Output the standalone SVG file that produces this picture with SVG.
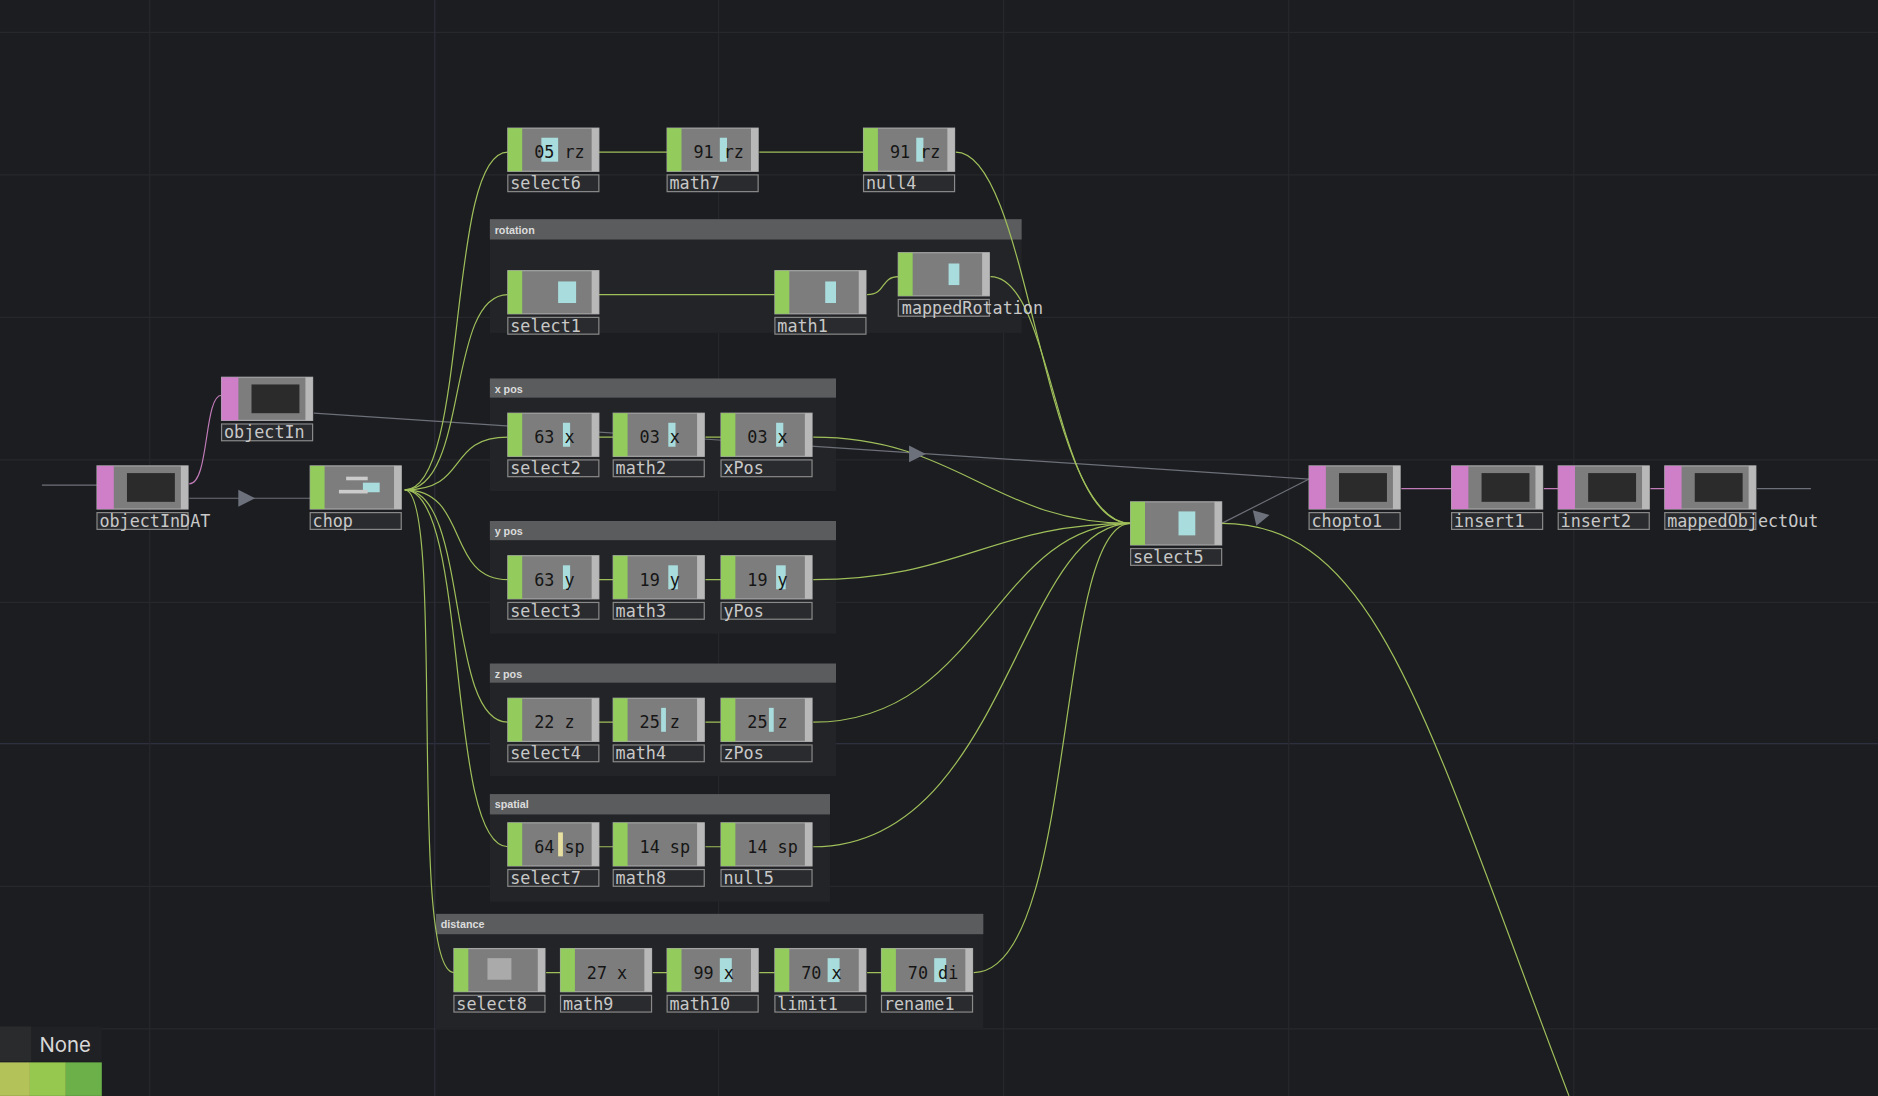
<svg xmlns="http://www.w3.org/2000/svg" width="1878" height="1096" viewBox="0 0 1878 1096">
<defs>
<style>
.bg{fill:#1c1d21}
.grid{stroke:#26282c;stroke-width:1}
.body{fill:#7d7d7d;stroke:#a5a5a5;stroke-width:1}
.g{fill:#93cc5c}
.p{fill:#cf7fc8}
.rs{fill:#b8b8b8}
.lb{fill:#2a2b2e;stroke:#8a8a8a;stroke-width:1}
.lt{font-family:"DejaVu Sans Mono","Liberation Mono",monospace;font-size:14px;fill:#c8c8c8}
.vt{font-family:"DejaVu Sans Mono","Liberation Mono",monospace;font-size:14px;fill:#151515}
.hd{fill:#5b5c5e}
.box{fill:#232427}
.ht{font-family:"Liberation Sans",Arial,sans-serif;font-size:9px;font-weight:bold;fill:#dcdcdc}
.w{fill:none;stroke:#9fbf5a;stroke-width:1}
.gw{fill:none;stroke:#6d7079;stroke-width:1}
.pw{fill:none;stroke:#c07bb8;stroke-width:1}
.dk{fill:#2b2b2b}
.cy{fill:#a9dcdc}
.arr{fill:#6d717c}
</style>
</defs>
<rect class="bg" width="1878" height="1096"/>
<g transform="scale(1.1977)">
<g id="grid">
<line class="grid" x1="0" y1="27" x2="1568" y2="27"/>
<line class="grid" x1="0" y1="146" x2="1568" y2="146"/>
<line class="grid" x1="0" y1="265" x2="1568" y2="265"/>
<line class="grid" x1="0" y1="384" x2="1568" y2="384"/>
<line class="grid" x1="0" y1="503" x2="1568" y2="503"/>
<line class="grid" x1="0" y1="740" x2="1568" y2="740"/>
<line class="grid" x1="0" y1="859" x2="1568" y2="859"/>
<line x1="0" y1="621" x2="1568" y2="621" stroke="#34364a"/>
<line x1="363" y1="0" x2="363" y2="915" stroke="#2c2e3a"/>
<line class="grid" x1="125" y1="0" x2="125" y2="915"/>
<line class="grid" x1="600" y1="0" x2="600" y2="915"/>
<line class="grid" x1="838" y1="0" x2="838" y2="915"/>
<line class="grid" x1="1076" y1="0" x2="1076" y2="915"/>
<line class="grid" x1="1314" y1="0" x2="1314" y2="915"/>
</g>
<g id="boxes">
<rect class="box" x="409" y="183" width="444" height="95"/><rect class="hd" x="409" y="183" width="444" height="17"/><text class="ht" x="413" y="195">rotation</text>
<rect class="box" x="409" y="316" width="289" height="94"/><rect class="hd" x="409" y="316" width="289" height="16"/><text class="ht" x="413" y="328">x pos</text>
<rect class="box" x="409" y="435" width="289" height="94"/><rect class="hd" x="409" y="435" width="289" height="16"/><text class="ht" x="413" y="447">y pos</text>
<rect class="box" x="409" y="554" width="289" height="94"/><rect class="hd" x="409" y="554" width="289" height="16"/><text class="ht" x="413" y="566">z pos</text>
<rect class="box" x="409" y="663" width="284" height="90"/><rect class="hd" x="409" y="663" width="284" height="17"/><text class="ht" x="413" y="675">spatial</text>
<rect class="box" x="364" y="763" width="457" height="96"/><rect class="hd" x="364" y="763" width="457" height="17"/><text class="ht" x="368" y="775">distance</text>
</g>
<g id="connectors">
<path class="gw" d="M35,405 H81"/>
<path class="pw" d="M158,404 C175,404 170,330 185,330"/>
<path class="gw" d="M158,416 H259"/>
<path class="gw" d="M262,345 L1093,400"/>
<path class="w" d="M338,409 C392,409 372,127 424,127"/>
<path class="w" d="M338,409 C392,409 372,246 424,246"/>
<path class="w" d="M338,409 C392,409 372,365 424,365"/>
<path class="w" d="M338,409 C392,409 372,484 424,484"/>
<path class="w" d="M338,409 C392,409 372,603 424,603"/>
<path class="w" d="M338,409 C392,409 372,707 424,707"/>
<path class="w" d="M338,409 C372,409 340,812 379,812"/>
<path class="w" d="M500,127 H557 M634,127 H721 M500,246 H647 M724,246 C740,246 735,231 750,231"/>
<path class="w" d="M500,365 H512 M589,365 H602 M500,484 H512 M589,484 H602 M500,603 H512 M589,603 H602 M500,707 H512 M589,707 H602"/>
<path class="w" d="M456,812 H468 M545,812 H557 M634,812 H647 M724,812 H736"/>
<path class="w" d="M798,127 C860,127 870,437 944,437"/>
<path class="w" d="M827,231 C880,231 880,437 944,437"/>
<path class="w" d="M679,365 C800,365 830,437 944,437"/>
<path class="w" d="M679,484 C800,484 830,437 944,437"/>
<path class="w" d="M679,603 C820,603 830,437 944,437"/>
<path class="w" d="M679,707 C840,707 850,437 944,437"/>
<path class="w" d="M813,812 C900,812 880,437 944,437"/>
<path class="gw" d="M1020,437 L1093,400"/>
<path class="w" d="M1020,437 C1150,437 1190,600 1310,915"/>
<path class="pw" d="M1170,408 H1212 M1289,408 H1301 M1378,408 H1390"/>
<path class="gw" d="M1467,408 H1512"/>
<polygon class="arr" points="199,409 213,416 199,423"/>
<polygon class="arr" points="759,372 773,379 759,386"/>
<polygon class="arr" points="1046,426 1060,430 1049,439"/>
</g>
<g id="select6" transform="translate(424,107)"><rect class="body" width="76" height="36"/><rect class="g" width="12" height="36"/><rect class="rs" x="70" width="6" height="36"/><rect class="cy" x="28" y="8" width="14" height="20"/><text class="vt" x="22" y="25">05 rz</text><rect class="lb" y="39" width="76" height="14"/><text class="lt" x="2" y="51">select6</text></g>
<g id="math7" transform="translate(557,107)"><rect class="body" width="76" height="36"/><rect class="g" width="12" height="36"/><rect class="rs" x="70" width="6" height="36"/><rect class="cy" x="44" y="8" width="6" height="20"/><text class="vt" x="22" y="25">91 rz</text><rect class="lb" y="39" width="76" height="14"/><text class="lt" x="2" y="51">math7</text></g>
<g id="null4" transform="translate(721,107)"><rect class="body" width="76" height="36"/><rect class="g" width="12" height="36"/><rect class="rs" x="70" width="6" height="36"/><rect class="cy" x="44" y="8" width="6" height="20"/><text class="vt" x="22" y="25">91 rz</text><rect class="lb" y="39" width="76" height="14"/><text class="lt" x="2" y="51">null4</text></g>
<g id="select1" transform="translate(424,226)"><rect class="body" width="76" height="36"/><rect class="g" width="12" height="36"/><rect class="rs" x="70" width="6" height="36"/><rect class="cy" x="42" y="9" width="15" height="18"/><rect class="lb" y="39" width="76" height="14"/><text class="lt" x="2" y="51">select1</text></g>
<g id="math1" transform="translate(647,226)"><rect class="body" width="76" height="36"/><rect class="g" width="12" height="36"/><rect class="rs" x="70" width="6" height="36"/><rect class="cy" x="42" y="9" width="9" height="18"/><rect class="lb" y="39" width="76" height="14"/><text class="lt" x="2" y="51">math1</text></g>
<g id="mappedRotation" transform="translate(750,211)"><rect class="body" width="76" height="36"/><rect class="g" width="12" height="36"/><rect class="rs" x="70" width="6" height="36"/><rect class="cy" x="42" y="9" width="9" height="18"/><rect class="lb" y="39" width="76" height="14"/><text class="lt" x="3" y="51">mappedRotation</text></g>
<g id="objectIn" transform="translate(185,315)"><rect class="body" width="76" height="36"/><rect class="p" width="14" height="36"/><rect class="rs" x="70" width="6" height="36"/><rect class="dk" x="25" y="6" width="40" height="24"/><rect class="lb" y="39" width="76" height="14"/><text class="lt" x="2" y="51">objectIn</text></g>
<g id="objectInDAT" transform="translate(81,389)"><rect class="body" width="76" height="36"/><rect class="p" width="14" height="36"/><rect class="rs" x="70" width="6" height="36"/><rect class="dk" x="25" y="6" width="40" height="24"/><rect class="lb" y="39" width="76" height="14"/><text class="lt" x="2" y="51">objectInDAT</text></g>
<g id="chop" transform="translate(259,389)"><rect class="body" width="76" height="36"/><rect class="g" width="12" height="36"/><rect class="rs" x="70" width="6" height="36"/><rect class="cy" x="44" y="14" width="14" height="8"/><rect fill="#ccc" x="24" y="20" width="24" height="3"/><rect fill="#ccc" x="30" y="9" width="18" height="3"/><rect class="lb" y="39" width="76" height="14"/><text class="lt" x="2" y="51">chop</text></g>
<g id="select2" transform="translate(424,345)"><rect class="body" width="76" height="36"/><rect class="g" width="12" height="36"/><rect class="rs" x="70" width="6" height="36"/><rect class="cy" x="46" y="8" width="6" height="20"/><text class="vt" x="22" y="25">63 x</text><rect class="lb" y="39" width="76" height="14"/><text class="lt" x="2" y="51">select2</text></g>
<g id="math2" transform="translate(512,345)"><rect class="body" width="76" height="36"/><rect class="g" width="12" height="36"/><rect class="rs" x="70" width="6" height="36"/><rect class="cy" x="46" y="8" width="6" height="20"/><text class="vt" x="22" y="25">03 x</text><rect class="lb" y="39" width="76" height="14"/><text class="lt" x="2" y="51">math2</text></g>
<g id="xPos" transform="translate(602,345)"><rect class="body" width="76" height="36"/><rect class="g" width="12" height="36"/><rect class="rs" x="70" width="6" height="36"/><rect class="cy" x="46" y="8" width="6" height="20"/><text class="vt" x="22" y="25">03 x</text><rect class="lb" y="39" width="76" height="14"/><text class="lt" x="2" y="51">xPos</text></g>
<g id="select3" transform="translate(424,464)"><rect class="body" width="76" height="36"/><rect class="g" width="12" height="36"/><rect class="rs" x="70" width="6" height="36"/><rect class="cy" x="46" y="8" width="6" height="20"/><text class="vt" x="22" y="25">63 y</text><rect class="lb" y="39" width="76" height="14"/><text class="lt" x="2" y="51">select3</text></g>
<g id="math3" transform="translate(512,464)"><rect class="body" width="76" height="36"/><rect class="g" width="12" height="36"/><rect class="rs" x="70" width="6" height="36"/><rect class="cy" x="46" y="8" width="8" height="20"/><text class="vt" x="22" y="25">19 y</text><rect class="lb" y="39" width="76" height="14"/><text class="lt" x="2" y="51">math3</text></g>
<g id="yPos" transform="translate(602,464)"><rect class="body" width="76" height="36"/><rect class="g" width="12" height="36"/><rect class="rs" x="70" width="6" height="36"/><rect class="cy" x="46" y="8" width="8" height="20"/><text class="vt" x="22" y="25">19 y</text><rect class="lb" y="39" width="76" height="14"/><text class="lt" x="2" y="51">yPos</text></g>
<g id="select4" transform="translate(424,583)"><rect class="body" width="76" height="36"/><rect class="g" width="12" height="36"/><rect class="rs" x="70" width="6" height="36"/><text class="vt" x="22" y="25">22 z</text><rect class="lb" y="39" width="76" height="14"/><text class="lt" x="2" y="51">select4</text></g>
<g id="math4" transform="translate(512,583)"><rect class="body" width="76" height="36"/><rect class="g" width="12" height="36"/><rect class="rs" x="70" width="6" height="36"/><rect class="cy" x="40" y="8" width="4" height="20"/><text class="vt" x="22" y="25">25 z</text><rect class="lb" y="39" width="76" height="14"/><text class="lt" x="2" y="51">math4</text></g>
<g id="zPos" transform="translate(602,583)"><rect class="body" width="76" height="36"/><rect class="g" width="12" height="36"/><rect class="rs" x="70" width="6" height="36"/><rect class="cy" x="40" y="8" width="4" height="20"/><text class="vt" x="22" y="25">25 z</text><rect class="lb" y="39" width="76" height="14"/><text class="lt" x="2" y="51">zPos</text></g>
<g id="select7" transform="translate(424,687)"><rect class="body" width="76" height="36"/><rect class="g" width="12" height="36"/><rect class="rs" x="70" width="6" height="36"/><rect fill="#e8e0a0" x="42" y="8" width="4" height="20"/><text class="vt" x="22" y="25">64 sp</text><rect class="lb" y="39" width="76" height="14"/><text class="lt" x="2" y="51">select7</text></g>
<g id="math8" transform="translate(512,687)"><rect class="body" width="76" height="36"/><rect class="g" width="12" height="36"/><rect class="rs" x="70" width="6" height="36"/><text class="vt" x="22" y="25">14 sp</text><rect class="lb" y="39" width="76" height="14"/><text class="lt" x="2" y="51">math8</text></g>
<g id="null5" transform="translate(602,687)"><rect class="body" width="76" height="36"/><rect class="g" width="12" height="36"/><rect class="rs" x="70" width="6" height="36"/><text class="vt" x="22" y="25">14 sp</text><rect class="lb" y="39" width="76" height="14"/><text class="lt" x="2" y="51">null5</text></g>
<g id="select8" transform="translate(379,792)"><rect class="body" width="76" height="36"/><rect class="g" width="12" height="36"/><rect class="rs" x="70" width="6" height="36"/><rect fill="#aaa" x="28" y="8" width="20" height="18"/><rect class="lb" y="39" width="76" height="14"/><text class="lt" x="2" y="51">select8</text></g>
<g id="math9" transform="translate(468,792)"><rect class="body" width="76" height="36"/><rect class="g" width="12" height="36"/><rect class="rs" x="70" width="6" height="36"/><text class="vt" x="22" y="25">27 x</text><rect class="lb" y="39" width="76" height="14"/><text class="lt" x="2" y="51">math9</text></g>
<g id="math10" transform="translate(557,792)"><rect class="body" width="76" height="36"/><rect class="g" width="12" height="36"/><rect class="rs" x="70" width="6" height="36"/><rect class="cy" x="44" y="8" width="10" height="20"/><text class="vt" x="22" y="25">99 x</text><rect class="lb" y="39" width="76" height="14"/><text class="lt" x="2" y="51">math10</text></g>
<g id="limit1" transform="translate(647,792)"><rect class="body" width="76" height="36"/><rect class="g" width="12" height="36"/><rect class="rs" x="70" width="6" height="36"/><rect class="cy" x="44" y="8" width="10" height="20"/><text class="vt" x="22" y="25">70 x</text><rect class="lb" y="39" width="76" height="14"/><text class="lt" x="2" y="51">limit1</text></g>
<g id="rename1" transform="translate(736,792)"><rect class="body" width="76" height="36"/><rect class="g" width="12" height="36"/><rect class="rs" x="70" width="6" height="36"/><rect class="cy" x="44" y="8" width="10" height="20"/><text class="vt" x="22" y="25">70 di</text><rect class="lb" y="39" width="76" height="14"/><text class="lt" x="2" y="51">rename1</text></g>
<g id="select5" transform="translate(944,419)"><rect class="body" width="76" height="36"/><rect class="g" width="12" height="36"/><rect class="rs" x="70" width="6" height="36"/><rect class="cy" x="40" y="8" width="14" height="20"/><rect class="lb" y="39" width="76" height="14"/><text class="lt" x="2" y="51">select5</text></g>
<g id="chopto1" transform="translate(1093,389)"><rect class="body" width="76" height="36"/><rect class="p" width="14" height="36"/><rect class="rs" x="70" width="6" height="36"/><rect class="dk" x="25" y="6" width="40" height="24"/><rect class="lb" y="39" width="76" height="14"/><text class="lt" x="2" y="51">chopto1</text></g>
<g id="insert1" transform="translate(1212,389)"><rect class="body" width="76" height="36"/><rect class="p" width="14" height="36"/><rect class="rs" x="70" width="6" height="36"/><rect class="dk" x="25" y="6" width="40" height="24"/><rect class="lb" y="39" width="76" height="14"/><text class="lt" x="2" y="51">insert1</text></g>
<g id="insert2" transform="translate(1301,389)"><rect class="body" width="76" height="36"/><rect class="p" width="14" height="36"/><rect class="rs" x="70" width="6" height="36"/><rect class="dk" x="25" y="6" width="40" height="24"/><rect class="lb" y="39" width="76" height="14"/><text class="lt" x="2" y="51">insert2</text></g>
<g id="mappedObjectOut" transform="translate(1390,389)"><rect class="body" width="76" height="36"/><rect class="p" width="14" height="36"/><rect class="rs" x="70" width="6" height="36"/><rect class="dk" x="25" y="6" width="40" height="24"/><rect class="lb" y="39" width="76" height="14"/><text class="lt" x="2" y="51">mappedObjectOut</text></g>
<g id="legend">
<rect x="0" y="857" width="85" height="29" fill="#202124"/>
<rect x="0" y="857" width="26" height="29" fill="#2a2b2d"/>
<text x="33" y="878" font-family="Inter,'Liberation Sans',sans-serif" font-size="17" fill="#d8d8d8">None</text>
<rect x="0" y="887" width="25" height="28" fill="#b4c25a"/>
<rect x="25" y="887" width="30" height="28" fill="#96c850"/>
<rect x="55" y="887" width="30" height="28" fill="#6cb04a"/>
</g>
</g>
</svg>
